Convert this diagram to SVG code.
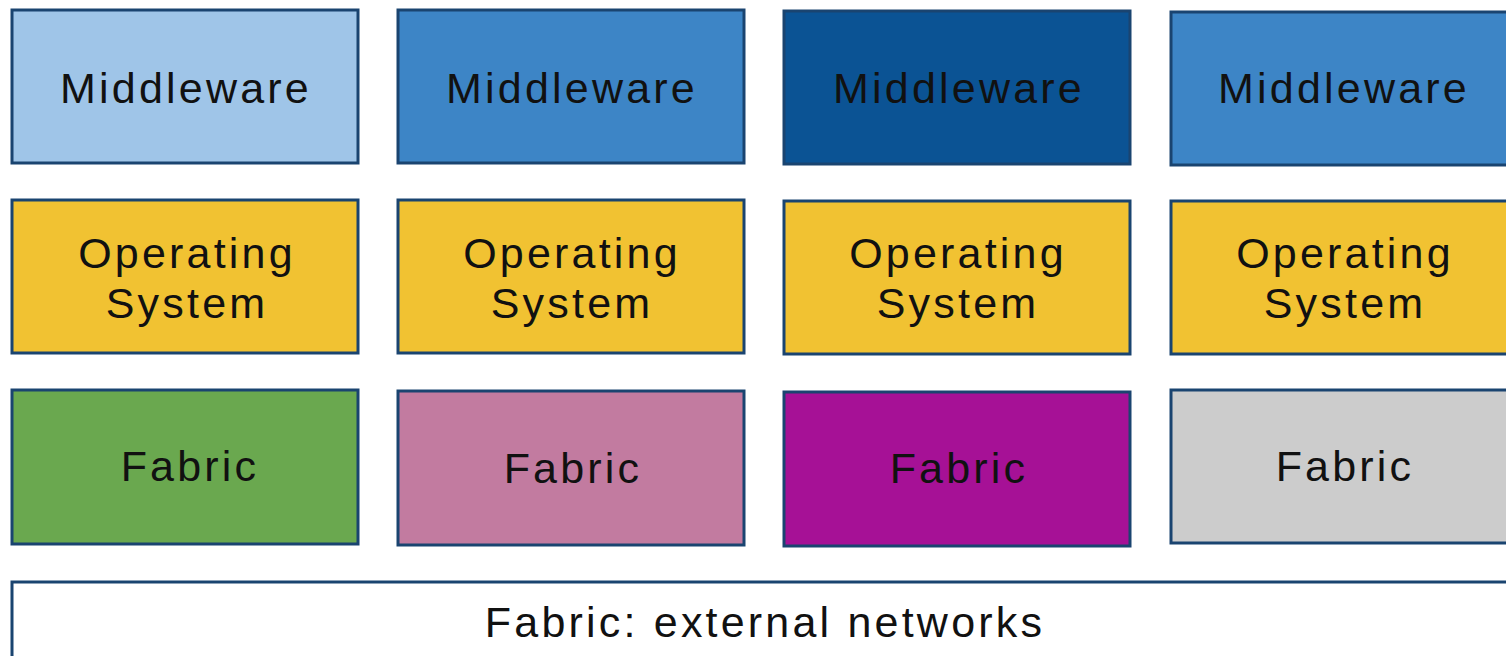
<svg xmlns="http://www.w3.org/2000/svg" width="1506" height="656" viewBox="0 0 1506 656">
<style>
rect{stroke:#1a4470;stroke-width:3}
text{font-family:"Liberation Sans",Arial,sans-serif;font-size:43px;fill:#111;text-anchor:middle;letter-spacing:3.2px}
.mw1{fill:#9fc5e8}.mw2{fill:#3d85c6}.mw3{fill:#0b5394}
.os{fill:#f1c232}
.f1{fill:#6aa84f}.f2{fill:#c27ba0}.f3{fill:#a61196}.f4{fill:#cccccc}
.ext{fill:#ffffff}
</style>
<g id="middleware1"><rect class="mw1" x="12" y="10" width="346" height="153"/><text x="186" y="103">Middleware</text></g>
<g id="middleware2"><rect class="mw2" x="398" y="10" width="346" height="153"/><text x="572" y="103">Middleware</text></g>
<g id="middleware3"><rect class="mw3" x="784" y="11" width="346" height="153"/><text x="959" y="103">Middleware</text></g>
<g id="middleware4"><rect class="mw2" x="1171" y="12" width="346" height="153"/><text x="1344" y="103">Middleware</text></g>
<g id="os1"><rect class="os" x="12" y="200" width="346" height="153"/><text x="187" y="268">Operating</text><text x="187" y="318">System</text></g>
<g id="os2"><rect class="os" x="398" y="200" width="346" height="153"/><text x="572" y="268">Operating</text><text x="572" y="318">System</text></g>
<g id="os3"><rect class="os" x="784" y="201" width="346" height="153"/><text x="958" y="268">Operating</text><text x="958" y="318">System</text></g>
<g id="os4"><rect class="os" x="1171" y="201" width="346" height="153"/><text x="1345" y="268">Operating</text><text x="1345" y="318">System</text></g>
<g id="fabric1"><rect class="f1" x="12" y="390" width="346" height="154"/><text x="190" y="481">Fabric</text></g>
<g id="fabric2"><rect class="f2" x="398" y="391" width="346" height="154"/><text x="573" y="483">Fabric</text></g>
<g id="fabric3"><rect class="f3" x="784" y="392" width="346" height="154"/><text x="959" y="483">Fabric</text></g>
<g id="fabric4"><rect class="f4" x="1171" y="390" width="346" height="153"/><text x="1345" y="481">Fabric</text></g>
<g id="external"><rect class="ext" x="12" y="582" width="1520" height="90"/><text x="765" y="637">Fabric: external networks</text></g>
<g id="connectors"/>
</svg>
